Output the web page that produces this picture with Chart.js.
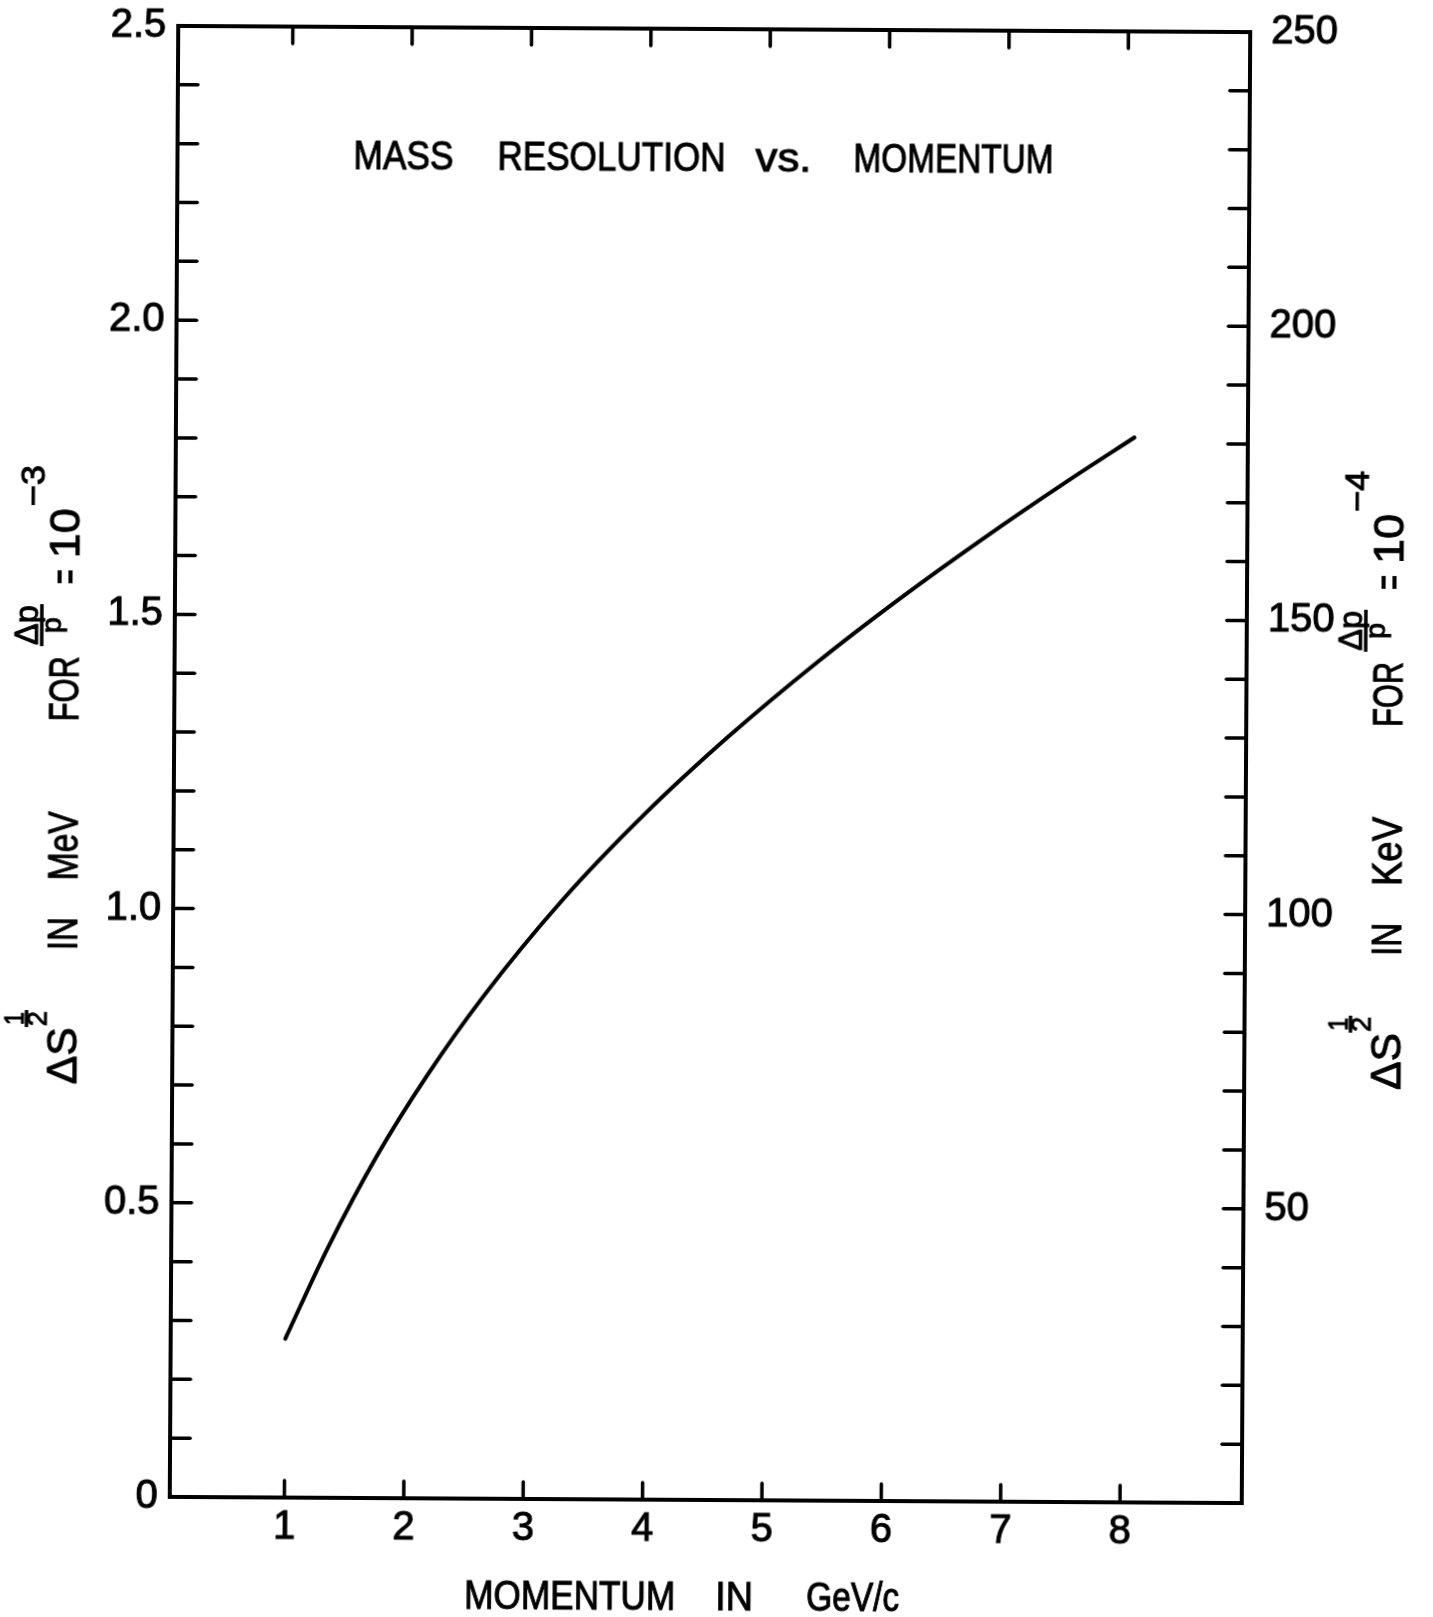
<!DOCTYPE html>
<html>
<head>
<meta charset="utf-8">
<script src="https://cdn.jsdelivr.net/npm/chart.js@4.4.0/dist/chart.umd.min.js"></script>
<style>
  html, body { margin: 0; padding: 0; background: #fff; overflow: hidden; }
  #wrap { width: 1433px; height: 1617px; }
  /* the original is a slightly skewed scan */
  #chart { transform: rotate(0.33deg); transform-origin: 710px 764px; }
</style>
</head>
<body>
<div id="wrap"><canvas id="chart" width="1433" height="1617"></canvas></div>
<script>
// momentum (GeV/c) and mass resolution (MeV for dp/p = 1e-3)
const momentum = [1.00, 1.35, 1.76, 2.17, 2.64, 3.30, 3.99, 4.68, 5.43, 6.12, 6.81, 7.51, 8.07];
const resolutionMeV = [0.27, 0.424, 0.582, 0.717, 0.853, 1.018, 1.166, 1.297, 1.426, 1.535, 1.637, 1.735, 1.81];

const xTickLabels = ["1", "2", "3", "4", "5", "6", "7", "8"];
const leftTickLabels = ["0", "0.5", "1.0", "1.5", "2.0", "2.5"];
const rightTickLabels = ["", "50", "100", "150", "200", "250"];

const FAMILY = "'Liberation Sans', Arial, sans-serif";

Chart.defaults.font.family = FAMILY;
Chart.defaults.color = "#000";

// draw text squeezed/stretched so it fills [x0, x1]
function fitText(ctx, text, x0, x1, y, size) {
  ctx.font = size + "px " + FAMILY;
  const w = ctx.measureText(text).width;
  ctx.save();
  ctx.translate(x0, y);
  ctx.scale((x1 - x0) / w, 1);
  ctx.lineWidth = 1;
  ctx.fillText(text, 0, 0);
  ctx.strokeText(text, 0, 0);
  ctx.restore();
}

// ticks on all four sides pointing into the plot, plus the frame
const frameTicks = {
  id: "frameTicks",
  afterDatasetsDraw(chart) {
    const { ctx, chartArea: a, scales } = chart;
    ctx.save();
    ctx.strokeStyle = "#000";
    ctx.lineCap = "round";
    ctx.lineWidth = 3.5;
    for (let i = 1; i < 25; i++) {
      const y = scales.y.getPixelForValue(i / 10);
      ctx.beginPath(); ctx.moveTo(a.left, y); ctx.lineTo(a.left + 20, y); ctx.stroke();
      const y2 = scales.y2.getPixelForValue(i * 10);
      ctx.beginPath(); ctx.moveTo(a.right, y2); ctx.lineTo(a.right - 20, y2); ctx.stroke();
    }
    for (let i = 1; i <= 8; i++) {
      const x = scales.x.getPixelForValue(i);
      ctx.beginPath(); ctx.moveTo(x, a.bottom); ctx.lineTo(x, a.bottom - 17); ctx.stroke();
      ctx.beginPath(); ctx.moveTo(x, a.top); ctx.lineTo(x, a.top + 17); ctx.stroke();
    }
    ctx.lineWidth = 4;
    ctx.lineCap = "square";
    ctx.strokeRect(a.left, a.top, a.right - a.left, a.bottom - a.top);
    ctx.restore();
  }
};

// vertical label: ΔS^(1/2) IN <unit> FOR Δp/p = 10^-<exp>, reading bottom to top
function drawAxisLabel(ctx, baseX, startY, unit, exp) {
  const parts = [
    ["ΔS", 0, 57, 0, 42],
    ["2", 58, 73, -30, 27],
    ["1", 59, 72, -53, 27],
    ["IN", 134, 167, 0, 42],
    [unit, 204, 273, 0, 42],
    ["FOR", 363, 428, 0, 42],
    ["Δp", 439, 479, -41, 34],
    ["p", 451, 467, -18, 28],
    ["=", 500, 515, 0, 42],
    ["10", 526, 576, 0, 42],
    ["\u2212" + exp, 578, 619, -35, 34]
  ];
  ctx.save();
  ctx.translate(baseX, startY);
  ctx.rotate(-Math.PI / 2);
  ctx.fillStyle = "#000";
  ctx.strokeStyle = "#000";
  ctx.textBaseline = "alphabetic";
  ctx.textAlign = "left";
  parts.forEach(([t, u0, u1, v, size]) => fitText(ctx, t, u0, u1, v, size));
  ctx.lineWidth = 3.5;
  ctx.beginPath(); ctx.moveTo(57, -50); ctx.lineTo(74, -50); ctx.stroke();
  ctx.beginPath(); ctx.moveTo(438, -37); ctx.lineTo(480, -37); ctx.stroke();
  ctx.restore();
}

const labels = {
  id: "labels",
  afterDraw(chart) {
    const ctx = chart.ctx;
    ctx.save();
    ctx.fillStyle = "#000";
    ctx.strokeStyle = "#000";
    ctx.textBaseline = "alphabetic";
    ctx.textAlign = "left";
    fitText(ctx, "MASS", 350, 450, 171, 40);
    fitText(ctx, "RESOLUTION", 494, 722, 171, 40);
    fitText(ctx, "vs.", 752, 808, 171, 40);
    fitText(ctx, "MOMENTUM", 850, 1050, 171, 40);
    fitText(ctx, "MOMENTUM", 469, 680, 1610, 40);
    fitText(ctx, "IN", 720, 758, 1610, 40);
    fitText(ctx, "GeV/c", 811, 904, 1610, 40);
    ctx.restore();
    drawAxisLabel(ctx, 78, 1088, "MeV", "3");
    drawAxisLabel(ctx, 1402, 1086, "KeV", "4");
  }
};

const tickFont = { size: 40 };

new Chart(document.getElementById("chart"), {
  type: "line",
  data: {
    datasets: [{
      data: momentum.map((p, i) => ({ x: p, y: resolutionMeV[i] })),
      borderColor: "#000",
      borderWidth: 4,
      borderCapStyle: "round",
      pointRadius: 0,
      fill: false,
      cubicInterpolationMode: "monotone",
      yAxisID: "y"
    }]
  },
  options: {
    responsive: false,
    animation: false,
    devicePixelRatio: 1,
    layout: { padding: { top: 29, left: 0, right: 0, bottom: 0 } },
    plugins: { legend: { display: false }, tooltip: { enabled: false } },
    scales: {
      x: {
        type: "linear",
        position: "bottom",
        // the drawn frame sits a hair inside 0 and just past 9
        min: 0.04, max: 9.02,
        grid: { display: false, drawTicks: false },
        border: { display: false },
        afterBuildTicks(s) { s.ticks = xTickLabels.map(t => ({ value: Number(t) })); },
        ticks: {
          autoSkip: false, maxRotation: 0, padding: 6,
          font: tickFont, textStrokeColor: "#000", textStrokeWidth: 1,
          callback: (v, i) => xTickLabels[i]
        },
        afterFit(s) { s.height = 117; s.paddingLeft = 0; s.paddingRight = 0; }
      },
      y: {
        position: "left",
        min: 0, max: 2.5,
        grid: { display: false, drawTicks: false },
        border: { display: false },
        ticks: {
          stepSize: 0.5, padding: 12,
          font: tickFont, textStrokeColor: "#000", textStrokeWidth: 1,
          callback: (v, i) => leftTickLabels[i]
        },
        afterFit(s) { s.width = 174; s.paddingTop = 0; s.paddingBottom = 0; }
      },
      y2: {
        position: "right",
        min: 0, max: 250,
        grid: { display: false, drawTicks: false },
        border: { display: false },
        ticks: {
          stepSize: 50, padding: 21,
          font: tickFont, textStrokeColor: "#000", textStrokeWidth: 1,
          callback: (v, i) => rightTickLabels[i]
        },
        afterFit(s) { s.width = 187; s.paddingTop = 0; s.paddingBottom = 0; }
      }
    }
  },
  plugins: [frameTicks, labels]
});
</script>
</body>
</html>
